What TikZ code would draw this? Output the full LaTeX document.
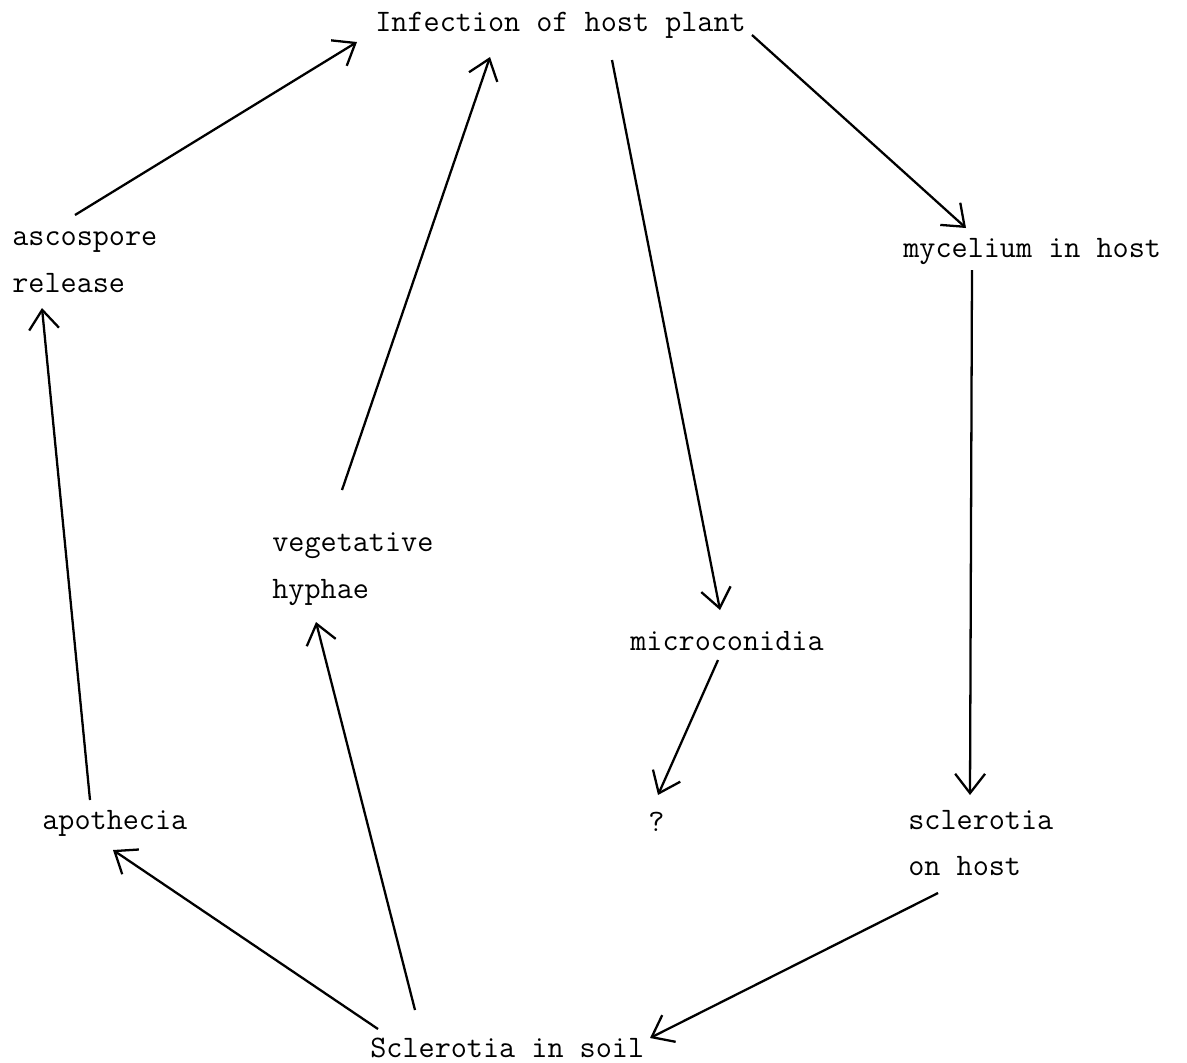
\documentclass[tikz,border=0pt]{standalone}
\usepackage{fontspec}
\usetikzlibrary{arrows.meta}

\begin{document}
\begin{tikzpicture}[
      x=0.02cm, y=-0.02cm,
      stage/.style={
         anchor=west,
         inner sep=0pt,
         align=left,
         font=\ttfamily\fontsize{17.8}{26.7}\selectfont
      },
      tip/.style={
         -{Straight Barb[length=11pt,width=17pt]},
         line width=1.3pt
      }
    ]
    \useasboundingbox (0,0) rectangle (1187,1062);
    % stages of the cycle
    \node (infect) [stage] at (375,25)  {Infection of host plant};
    \node (asco)   [stage] at (12,262)  {ascospore\\release};
    \node (myc)    [stage] at (903,252) {mycelium in host};
    \node (veg)    [stage] at (272,569) {vegetative\\hyphae};
    \node (micro)  [stage] at (630,641) {microconidia};
    \node (apo)    [stage] at (42,823)  {apothecia};
    \node (unk)    [stage] at (648,822) {?};
    \node (host)   [stage] at (908,843) {sclerotia\\on host};
    \node (soil)   [stage] at (370,1048) {Sclerotia in soil};
    % connectors
    \draw[tip] ([shift={(63,-47)}]asco.west)  -- ([shift={(-18,17)}]infect.west);
    \draw[tip] ([shift={(70,-79)}]veg.west)   -- ([shift={(115,32)}]infect.west);
    \draw[tip] ([shift={(237,35)}]infect.west) -- ([shift={(90,-31)}]micro.west);
    \draw[tip] ([shift={(377,10)}]infect.west) -- ([shift={(63,-24)}]myc.west);
    \draw[tip] ([shift={(69,18)}]myc.west)    -- ([shift={(62,-48)}]host.west);
    \draw[tip] ([shift={(88,19)}]micro.west)  -- ([shift={(10,-27)}]unk.west);
    \draw[tip] ([shift={(30,50)}]host.west)   -- ([shift={(280,-10)}]soil.west);
    \draw[tip] ([shift={(8,-19)}]soil.west)   -- ([shift={(71,27)}]apo.west);
    \draw[tip] ([shift={(45,-38)}]soil.west)  -- ([shift={(44,53)}]veg.west);
    \draw[tip] ([shift={(48,-23)}]apo.west)   -- ([shift={(30,46)}]asco.west);
\end{tikzpicture}
\end{document}
